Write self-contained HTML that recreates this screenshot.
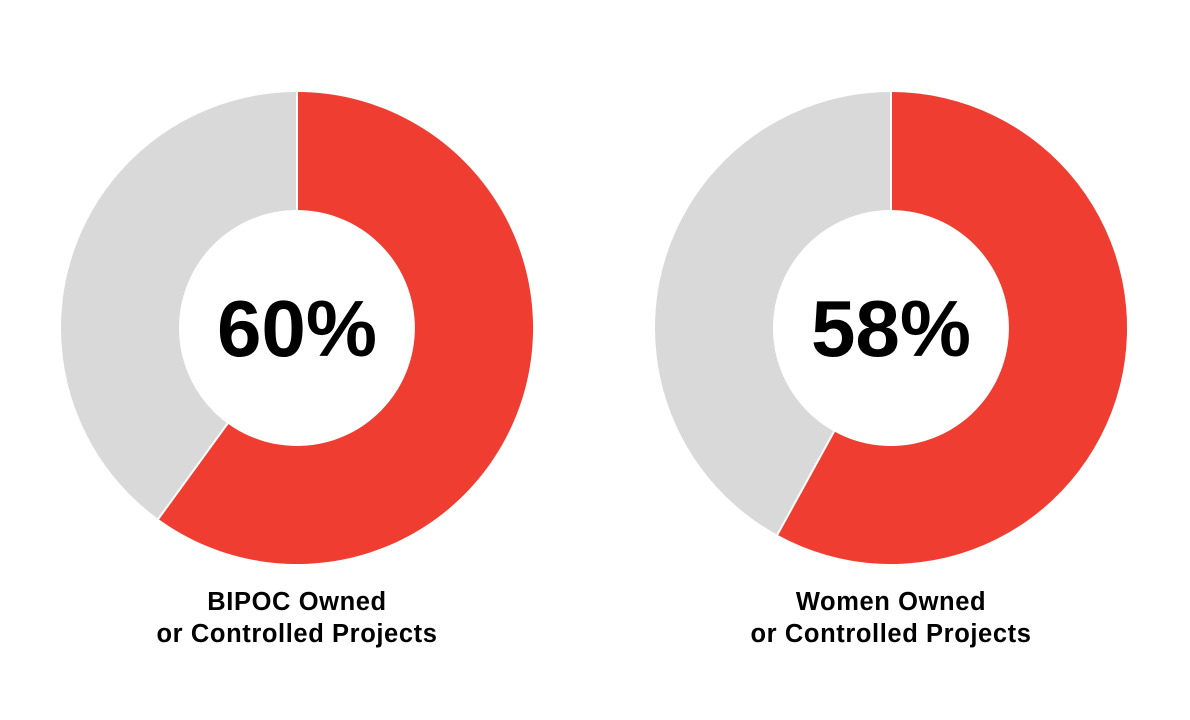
<!DOCTYPE html>
<html><head><meta charset="utf-8"><style>
html,body{margin:0;padding:0;background:#fff;}
svg{display:block;}
text{font-family:"Liberation Sans",sans-serif;font-weight:bold;fill:#000;}
.lbl{font-size:25.5px;letter-spacing:0.6px;}
</style></head><body>
<svg width="1190" height="720" viewBox="0 0 1190 720">
<rect width="1190" height="720" fill="#fff"/>
<circle cx="297" cy="328" r="177" fill="none" stroke="#D9D9D9" stroke-width="118"/>
<path d="M297,92 A236,236 0 1 1 158.3,518.9 L227.6,423.5 A118,118 0 1 0 297,210 Z" fill="#EF3E31"/>
<line x1="297" y1="92" x2="297" y2="210" stroke="#fff" stroke-width="2"/>
<line x1="158.3" y1="518.9" x2="227.6" y2="423.5" stroke="#fff" stroke-width="2"/>
<text x="297" y="356" font-size="80" text-anchor="middle">60%</text>
<text class="lbl" x="297" y="610" text-anchor="middle">BIPOC Owned</text>
<text class="lbl" x="297" y="642" text-anchor="middle">or Controlled Projects</text>
<circle cx="891" cy="328" r="177" fill="none" stroke="#D9D9D9" stroke-width="118"/>
<path d="M891,92 A236,236 0 1 1 777.3,534.8 L834.1,431.4 A118,118 0 1 0 891,210 Z" fill="#EF3E31"/>
<line x1="891" y1="92" x2="891" y2="210" stroke="#fff" stroke-width="2"/>
<line x1="777.3" y1="534.8" x2="834.1" y2="431.4" stroke="#fff" stroke-width="2"/>
<text x="891" y="356" font-size="80" text-anchor="middle">58%</text>
<text class="lbl" x="891" y="610" text-anchor="middle">Women Owned</text>
<text class="lbl" x="891" y="642" text-anchor="middle">or Controlled Projects</text>
</svg>
</body></html>
